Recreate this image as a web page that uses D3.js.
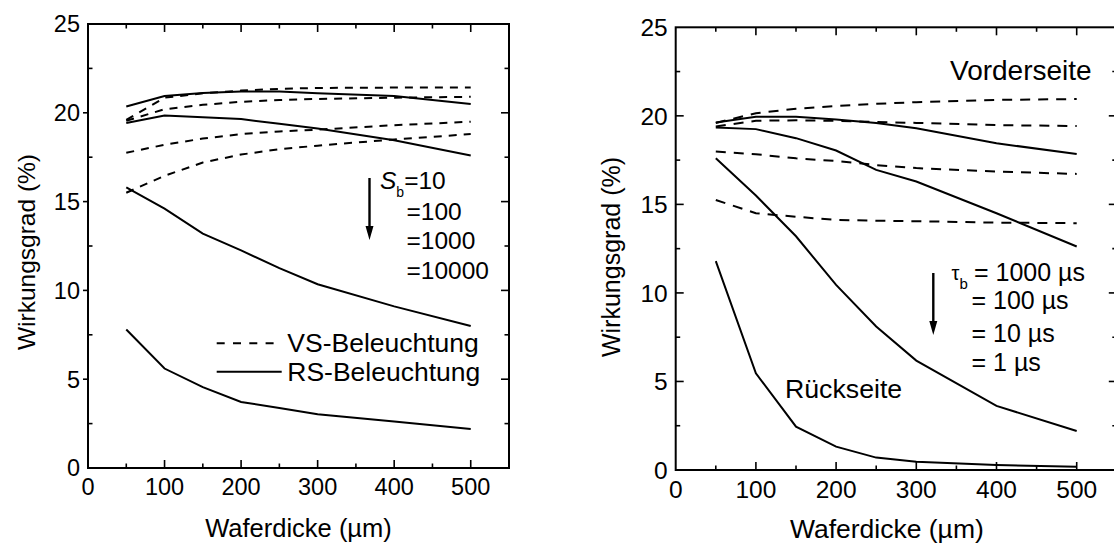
<!DOCTYPE html>
<html><head><meta charset="utf-8">
<script src="https://cdn.jsdelivr.net/npm/d3@7/dist/d3.min.js"></script>
<style>body{margin:0;background:#fff}svg{display:block}text{font-family:"Liberation Sans",Arial,sans-serif;fill:#000}</style>
</head><body><svg id="c" width="1114" height="548"></svg>
<script>
// ---- data ----
const thickness = [50, 100, 150, 200, 250, 300, 400, 500];
const xTicks = [0, 100, 200, 300, 400, 500];
const yTicks = [0, 5, 10, 15, 20, 25];
const xLabel = "Waferdicke (µm)";
const yLabel = "Wirkungsgrad (%)";
// left panel: S_b series, VS (front) illumination = dashed, RS (rear) = solid
const vsSb10    = [19.6, 20.85, 21.1, 21.25, 21.35, 21.4, 21.42, 21.43];
const vsSb100   = [19.55, 20.2, 20.45, 20.62, 20.72, 20.78, 20.85, 20.9];
const vsSb1000  = [17.75, 18.2, 18.55, 18.8, 18.95, 19.05, 19.3, 19.5];
const vsSb10000 = [15.5, 16.45, 17.2, 17.65, 17.95, 18.15, 18.5, 18.8];
const rsSb10    = [20.35, 20.95, 21.12, 21.2, 21.2, 21.1, 20.95, 20.5];
const rsSb100   = [19.42, 19.85, 19.75, 19.65, 19.38, 19.12, 18.45, 17.6];
const rsSb1000  = [15.8, 14.6, 13.2, 12.25, 11.25, 10.35, 9.1, 8.0];
const rsSb10000 = [7.8, 5.6, 4.55, 3.72, 3.38, 3.03, 2.62, 2.2];
const sbLabels = ["=10", "=100", "=1000", "=10000"];
const legendLabels = ["VS-Beleuchtung", "RS-Beleuchtung"];
// right panel: tau_b series
const vsTau1000 = [19.6, 20.15, 20.4, 20.55, 20.68, 20.77, 20.9, 20.95];
const vsTau100  = [19.4, 19.72, 19.75, 19.72, 19.65, 19.6, 19.48, 19.42];
const vsTau10   = [17.98, 17.83, 17.6, 17.45, 17.22, 17.05, 16.85, 16.72];
const vsTau1    = [15.25, 14.5, 14.3, 14.12, 14.08, 14.05, 13.97, 13.94];
const rsTau1000 = [19.62, 19.95, 19.95, 19.8, 19.6, 19.3, 18.45, 17.85];
const rsTau100  = [19.34, 19.25, 18.74, 18.04, 16.95, 16.29, 14.5, 12.62];
const rsTau10   = [17.6, 15.5, 13.2, 10.45, 8.1, 6.18, 3.62, 2.2];
const rsTau1    = [11.8, 5.46, 2.45, 1.32, 0.7, 0.47, 0.28, 0.19];
const tauLabels = ["= 1000 µs", "= 100 µs", "= 10 µs", "= 1 µs"];

const svg = d3.select("#c");

function panel(o) {
  const x = d3.scaleLinear().domain([0, 550]).range([o.left, o.right]);
  const y = d3.scaleLinear().domain([0, 25]).range([o.bottom, o.top]);
  const g = svg.append("g");
  const line = d3.line().x((d, i) => x(thickness[i])).y(d => y(d));
  o.dashed.forEach(s => g.append("path").attr("d", line(s)).attr("fill", "none")
    .attr("stroke", "#000").attr("stroke-width", 2).attr("stroke-dasharray", o.dash));
  o.solid.forEach(s => g.append("path").attr("d", line(s)).attr("fill", "none")
    .attr("stroke", "#000").attr("stroke-width", 2));
  // frame
  g.append("rect").attr("x", o.left).attr("y", o.top).attr("width", o.right - o.left)
    .attr("height", o.bottom - o.top).attr("fill", "none").attr("stroke", "#000").attr("stroke-width", 2);
  const minorX = d3.range(50, 501, 50);
  const minorY = d3.range(2.5, 25, 2.5);
  const tk = (x1, y1, x2, y2) => g.append("line").attr("x1", x1).attr("y1", y1).attr("x2", x2).attr("y2", y2)
    .attr("stroke", "#000").attr("stroke-width", 1.6);
  minorX.forEach(v => {
    const L = v % 100 === 0 ? 8 : 4.5;
    tk(x(v), o.bottom, x(v), o.bottom - L);
    tk(x(v), o.top, x(v), o.top + L);
  });
  minorY.forEach(v => {
    const major = v % 5 === 0;
    const L = major ? 8 : 4.5;
    tk(o.right, y(v), o.right - L, y(v));
    if (o.leftOut && major) tk(o.left, y(v), o.left - 5, y(v));
    else tk(o.left, y(v), o.left + L, y(v));
  });
  // tick labels
  g.selectAll(null).data(xTicks).join("text").attr("x", d => x(d)).attr("y", o.xLabY)
    .attr("text-anchor", "middle").attr("font-size", o.tickFs).text(d => d);
  g.selectAll(null).data(yTicks).join("text").attr("x", o.left - 8).attr("y", d => y(d))
    .attr("dy", "0.36em").attr("text-anchor", "end").attr("font-size", o.tickFs).text(d => d);
  // titles
  g.append("text").attr("x", (o.left + o.frameR) / 2).attr("y", o.xTitleY).attr("text-anchor", "middle")
    .attr("font-size", o.xTitleFs).text(xLabel);
  g.append("text").attr("transform", `translate(${o.yTitleX},${o.yTitleY}) rotate(-90)`)
    .attr("text-anchor", "middle").attr("font-size", o.yTitleFs).text(yLabel);
  return {g, x, y};
}

function arrow(g, x, y1, y2) {
  g.append("line").attr("x1", x).attr("y1", y1).attr("x2", x).attr("y2", y2 - 12)
    .attr("stroke", "#000").attr("stroke-width", 2.4);
  g.append("path").attr("d", `M${x - 4},${y2 - 14} L${x + 4},${y2 - 14} L${x},${y2} Z`).attr("fill", "#000");
}

// ---- left panel ----
const L = panel({left: 88, right: 509, frameR: 509, top: 24, bottom: 468,
  dashed: [vsSb10, vsSb100, vsSb1000, vsSb10000], solid: [rsSb10, rsSb100, rsSb1000, rsSb10000],
  dash: "8,7", leftOut: true, tickFs: 23.5, xTitleFs: 25.5, yTitleFs: 24.5,
  xLabY: 495, xTitleY: 536.5, yTitleX: 35, yTitleY: 252});
arrow(L.g, 369.5, 178, 240);
const sb = L.g.append("text").attr("x", 380).attr("y", 189.3).attr("font-size", 24.5);
sb.append("tspan").attr("font-style", "italic").text("S");
sb.append("tspan").attr("font-size", 14).attr("dy", 8).text("b");
sb.append("tspan").attr("dy", -8).text(sbLabels[0]);
sbLabels.slice(1).forEach((t, i) => L.g.append("text").attr("x", 406.5).attr("y", 219.5 + i * 29.5)
  .attr("font-size", 24.5).text(t));
// legend
L.g.append("line").attr("x1", 216.7).attr("x2", 281.7).attr("y1", 343.3).attr("y2", 343.3)
  .attr("stroke", "#000").attr("stroke-width", 2).attr("stroke-dasharray", "8,8.3");
L.g.append("line").attr("x1", 216.7).attr("x2", 281.7).attr("y1", 371.7).attr("y2", 371.7)
  .attr("stroke", "#000").attr("stroke-width", 2);
legendLabels.forEach((t, i) => L.g.append("text").attr("x", 287.3).attr("y", 351.7 + i * 29)
  .attr("font-size", 26.5).text(t));

// ---- right panel ----
const R = panel({left: 675.7, right: 1116.8, frameR: 1098, top: 27.3, bottom: 470,
  dashed: [vsTau1000, vsTau100, vsTau10, vsTau1], solid: [rsTau1000, rsTau100, rsTau10, rsTau1],
  dash: "10,8", leftOut: false, tickFs: 24.5, xTitleFs: 26.5, yTitleFs: 25,
  xLabY: 497.5, xTitleY: 538, yTitleX: 620, yTitleY: 257});
R.g.append("text").attr("x", 950).attr("y", 79.5).attr("font-size", 28).text("Vorderseite");
R.g.append("text").attr("x", 785).attr("y", 398).attr("font-size", 26.7).text("Rückseite");
arrow(R.g, 933.3, 273, 335);
const tb = R.g.append("text").attr("x", 951.5).attr("y", 280).attr("font-size", 20);
tb.append("tspan").text("τ");
tb.append("tspan").attr("font-size", 15).attr("dy", 9).text("b");
R.g.append("text").attr("x", 974).attr("y", 281).attr("font-size", 25).text(tauLabels[0]);
const tauY = [309, 342, 371];
tauLabels.slice(1).forEach((t, i) => R.g.append("text").attr("x", 971.5).attr("y", tauY[i])
  .attr("font-size", 25).text(t));
</script></body></html>
